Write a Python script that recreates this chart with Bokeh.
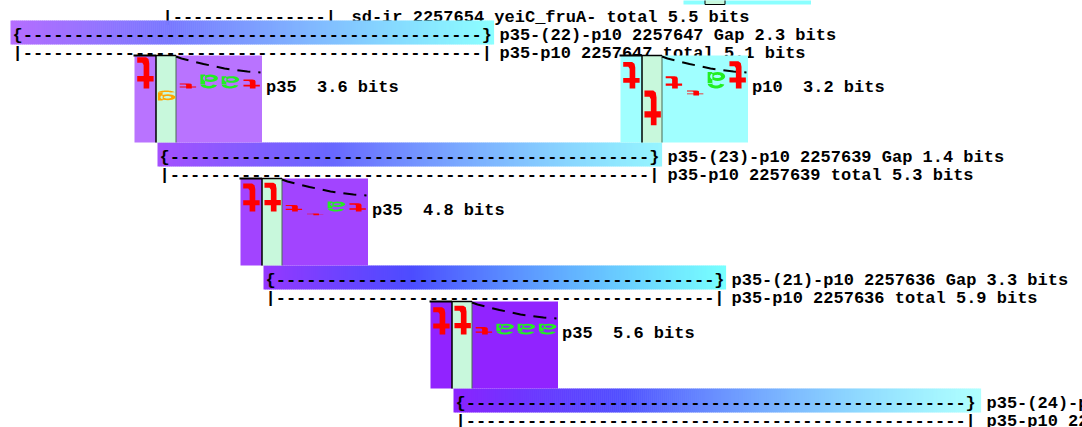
import colorsys
import math
from bokeh.plotting import figure
from bokeh.embed import file_html
from bokeh.resources import INLINE
from bokeh.core.properties import value

# ---------------- data ----------------
top_site_label = "sd-ir 2257654 yeiC_fruA- total 5.5 bits"
gap_labels = ["p35-(22)-p10 2257647 Gap 2.3 bits",
              "p35-(23)-p10 2257639 Gap 1.4 bits",
              "p35-(21)-p10 2257636 Gap 3.3 bits",
              "p35-(24)-p10"]
total_labels = ["p35-p10 2257647 total 5.1 bits",
                "p35-p10 2257639 total 5.3 bits",
                "p35-p10 2257636 total 5.9 bits",
                "p35-p10 22"]
gap_left_colors = ["#b66eff", "#a550ff", "#9638ff", "#8c23ff"]
gap_right_colors = ["#8cffff", "#96f5ff", "#78ffff", "#b0ffff"]

logo_names = ["p35", "p10", "p35", "p35"]
logo_bits = ["3.6", "3.2", "4.8", "5.6"]
logo_colors = ["#b973ff", "#a0ffff", "#a244ff", "#9123ff"]
logo_letters = [list("tgtaat"), list("ttttat"), list("ttttat"), list("tttaaa")]
logo_heights = [[1.9, -0.6, 0.3, 0.85, 0.75, 0.55],
                [1.6, -2.1, 0.75, -0.3, 1.0, 1.65],
                [1.7, 1.75, 0.4, -0.1, 0.6, 0.5],
                [1.65, 1.75, 0.45, 0.65, 0.65, 0.65]]
# dashed decay curve drawn on each logo (offsets)
curve_dx = [41.5, 47, 69, 90, 113, 126]
curve_dy = [1, 3, 8.5, 13, 16, 17]

# ---------------- layout ----------------
W, H = 1082, 427
bar_left = [10, 157, 263, 453]
bar_right = [493, 661, 725, 980]
bar_top = [20, 142, 265, 388]
logo_left = [134, 620, 240, 430]
logo_top = [55, 55, 178, 301]
prev_box = dict(left=683, bottom=4, color="#8affff")
BAR_H = 24
BOX_W, BOX_H = 127.5, 87
POS_W = BOX_W / 6
COL_OFF, COL_W = 21.5, 20
PX_PER_BIT = 16.5
BASE_OFF = 34
CHAR_W = 10.2
MONO = "Liberation Mono"
FS = "17px"
TEXT_DY = -3.5
COL_FILL = "#c8f8dc"
LETTER_COLORS = {"t": "#ff0000", "a": "#22ee22", "g": "#ffa500", "c": "#0000ff"}

p = figure(width=W, height=H, x_range=(0, W), y_range=(H, 0),
           output_backend="svg", toolbar_location=None, min_border=0,
           x_axis_location=None, y_axis_location=None)
p.grid.visible = False
p.outline_line_color = None
p.background_fill_color = "white"


def hx(c):
    c = c.lstrip("#")
    return tuple(int(c[i:i + 2], 16) / 255 for i in (0, 2, 4))


def gradient(c0, c1, n):
    h0, s0, v0 = colorsys.rgb_to_hsv(*hx(c0))
    h1, s1, v1 = colorsys.rgb_to_hsv(*hx(c1))
    out = []
    for k in range(n):
        f = (k + 0.5) / n
        r, g, b = colorsys.hsv_to_rgb(h0 + (h1 - h0) * f, s0 + (s1 - s0) * f, v0 + (v1 - v0) * f)
        out.append("#%02x%02x%02x" % (round(r * 255), round(g * 255), round(b * 255)))
    return out


def mono_text(x, y, s, align="left"):
    p.text(x=[x], y=[y + TEXT_DY], text=[s], text_font=value(MONO), text_font_style="bold",
           text_font_size=FS, text_color="black", text_baseline="alphabetic", text_align=align)


# ---- letter outlines in a unit box (x right, y up, upright letter) ----
def ell(cx, cy, rx, ry, a0, a1, n=20):
    return [(cx + rx * math.cos(math.radians(a0 + (a1 - a0) * k / n)),
             cy + ry * math.sin(math.radians(a0 + (a1 - a0) * k / n))) for k in range(n + 1)]


def arc_band(cx, cy, rxo, ryo, rxi, ryi, a0, a1):
    return [ell(cx, cy, rxo, ryo, a0, a1) + ell(cx, cy, rxi, ryi, a1, a0)]


SHAPES = {
    "t": [[[(0.28, 1.0), (0.58, 1.0), (0.58, 0.78), (0.92, 0.78), (0.92, 0.6), (0.58, 0.6),
            (0.58, 0.25), (0.65, 0.18), (0.92, 0.18), (0.92, 0.0), (0.45, 0.0), (0.32, 0.06),
            (0.28, 0.2), (0.28, 0.6), (0.05, 0.6), (0.05, 0.78), (0.28, 0.78)]]],
    "a": [[ell(0.42, 0.27, 0.4, 0.27, 0, 360), ell(0.44, 0.27, 0.2, 0.1, 360, 0)],
          [[(0.7, 0.0), (0.95, 0.0), (0.95, 0.72), (0.7, 0.72)]],
          arc_band(0.5, 0.68, 0.45, 0.32, 0.22, 0.14, 0, 165)],
    "g": [[ell(0.42, 0.68, 0.4, 0.3, 0, 360), ell(0.44, 0.68, 0.2, 0.13, 360, 0)],
          [[(0.7, 0.2), (0.95, 0.2), (0.95, 1.0), (0.7, 1.0)]],
          arc_band(0.5, 0.22, 0.45, 0.22, 0.22, 0.08, 190, 360)],
    "c": [arc_band(0.5, 0.5, 0.48, 0.5, 0.24, 0.26, 40, 320)],
}

# previous p10 box peeking at the top
p.quad(left=[prev_box["left"]], right=[prev_box["left"] + BOX_W], top=[prev_box["bottom"] - BOX_H],
       bottom=[prev_box["bottom"]], fill_color=prev_box["color"], line_color=None)
pc = prev_box["left"] + COL_OFF
p.quad(left=[pc], right=[pc + COL_W], top=[prev_box["bottom"] - BOX_H], bottom=[prev_box["bottom"]],
       fill_color=COL_FILL, line_color="black", line_width=1)

# top site line
mono_text(162, 20, "|" + "-" * 15 + "|")
mono_text(351, 20, top_site_label)

# gap bars and total lines
for i in range(4):
    L, R, T = bar_left[i], bar_right[i], bar_top[i]
    n = int(round((R - L) / 2))
    cols = gradient(gap_left_colors[i], gap_right_colors[i], n)
    xs = [L + (R - L) * k / n for k in range(n + 1)]
    p.quad(left=xs[:-1], right=[x + 0.6 for x in xs[1:]], top=[T] * n, bottom=[T + BAR_H] * n,
           fill_color=cols, line_color=None)
    nc = int(round((R - L - 8) / CHAR_W))
    mono_text(L + 2, T + 18, "{" + "-" * (nc - 2) + "}")
    mono_text(L + 2, T + 36, "|" + "-" * (nc - 2) + "|")
    mono_text(R + 6, T + 18, gap_labels[i])
    mono_text(R + 6, T + 36, total_labels[i])

# logos
pxs, pys, pcs = [], [], []
for j in range(4):
    L, T = logo_left[j], logo_top[j]
    p.quad(left=[L], right=[L + BOX_W], top=[T], bottom=[T + BOX_H], fill_color=logo_colors[j], line_color=None)
    c0 = L + COL_OFF
    p.quad(left=[c0], right=[c0 + COL_W], top=[T], bottom=[T + BOX_H], fill_color=COL_FILL, line_color=None)
    p.line([c0 + COL_W, c0 + COL_W], [T, T + BOX_H], line_color="#4a6a55", line_width=1)
    p.line([c0, c0, c0 + COL_W], [T + BOX_H, T, T], line_color="black", line_width=1.5)
    p.line([L - 1, c0], [T, T], line_color="black", line_width=2)
    p.line([L + d for d in curve_dx], [T + d for d in curve_dy], line_color="black",
           line_width=2, line_dash="13 8")
    base = T + BASE_OFF
    for k, (ch, b) in enumerate(zip(logo_letters[j], logo_heights[j])):
        h = abs(b) * PX_PER_BIT
        top = base - 1 - h if b > 0 else base + 1
        x0 = L + k * POS_W + 1.2
        x1 = L + (k + 1) * POS_W - 1.2
        # reverse strand: letters are drawn turned by 180 degrees
        polys_x, polys_y = [], []
        for poly in SHAPES[ch]:
            polys_x.append([[x0 + (1 - u) * (x1 - x0) for u, v in ring] for ring in poly])
            polys_y.append([[top + v * h for u, v in ring] for ring in poly])
        pxs.append(polys_x)
        pys.append(polys_y)
        pcs.append(LETTER_COLORS[ch])
    mono_text(L + BOX_W + 4, T + 35, logo_names[j])
    mono_text(L + BOX_W + 4 + 5 * CHAR_W, T + 35, "%s bits" % logo_bits[j])

p.multi_polygons(xs=pxs, ys=pys, fill_color=pcs, line_color=None)

open("out.html", "w").write(file_html(p, INLINE))
